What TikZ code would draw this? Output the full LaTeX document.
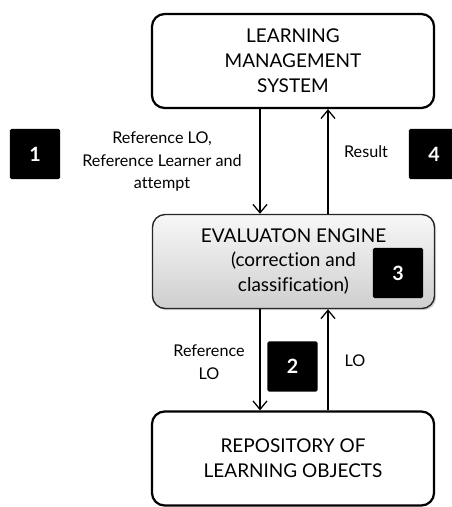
\documentclass[tikz,border=0pt]{standalone}
\usepackage{fontspec}
\setmainfont{Lato}[Ligatures={NoCommon,NoDiscretionary}]
\usepackage{tikz}
\usetikzlibrary{arrows.meta,shadows,positioning}

\begin{document}
\begin{tikzpicture}[x=0.025cm, y=-0.025cm, >={Straight Barb[length=6pt,width=10pt]}]
   \useasboundingbox (0,0) rectangle (452,507);
   \tikzset{
     block/.style={draw=black, line width=1.6pt, rounded corners=9pt, minimum width=7.05cm,
                   minimum height=2.35cm, align=center, font=\fontsize{13.5}{17.7}\selectfont},
     numbox/.style={fill=black, text=white, minimum size=1.25cm, inner sep=0pt,
                    rounded corners=1pt, font=\fontsize{14}{16}\selectfont\bfseries},
     lbl/.style={align=center, font=\fontsize{11.5}{16}\selectfont}
   }
   % main boxes
   \node[block] (lms) at (293,61) {LEARNING\\MANAGEMENT\\SYSTEM};
   \node[block, draw=black!85, line width=1pt, top color=gray!6, bottom color=gray!38,
         drop shadow={opacity=0.35, shadow xshift=1.2pt, shadow yshift=-1.2pt}]
         (engine) at (293.5,261.5) {EVALUATON ENGINE\\(correction and\\classification)};
   \node[block] (repo) at (293,458.5) {REPOSITORY OF\\LEARNING OBJECTS};
   % step numbers
   \node[numbox] (n1) at (35,154) {1};
   \node[numbox] (n2) at (292.5,366.5) {2};
   \node[numbox] (n3) at (398,273) {3};
   \node[numbox] (n4) at (434,154) {4};
   % flows
   \coordinate (lx) at (260,0);
   \coordinate (rx) at (328,0);
   \begin{scope}[line width=0.9pt]
    \draw[->] (lms.south -| lx) -- (engine.north -| lx);
    \draw[->] (engine.north -| rx) -- (lms.south -| rx);
    \draw[->] (engine.south -| lx) -- (repo.north -| lx);
    \draw[->] (repo.north -| rx) -- (engine.south -| rx);
   \end{scope}
   % labels
   \node[lbl] (t1) at (162,162) {Reference LO,\\Reference Learner and\\attempt};
   \node[lbl] (t4) at (366,152) {Result};
   \node[lbl] (t2) at (209,362) {Reference\\LO};
   \node[lbl] (t3) at (355,361) {LO};
\end{tikzpicture}
\end{document}
